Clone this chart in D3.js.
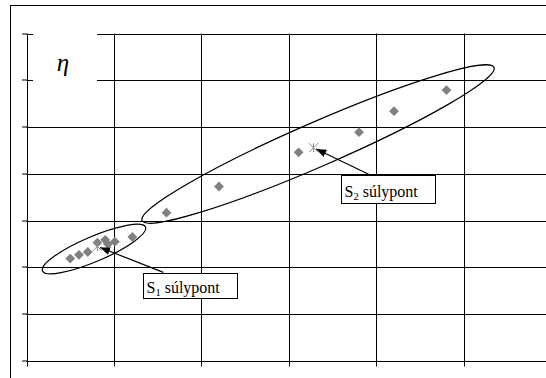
<!DOCTYPE html>
<html>
<head>
<meta charset="utf-8">
<script src="https://cdn.jsdelivr.net/npm/d3@7"></script>
<style>
  html, body { margin: 0; padding: 0; background: #fff; }
  svg { display: block; }
  svg text.serif { font-family: "Liberation Serif", "Times New Roman", Times, "DejaVu Serif", "Noto Serif", serif; }
</style>
</head>
<body>
<svg id="chart" width="546" height="378"></svg>
<script>
// Measured points, grouped by cluster (axis units)
const s1X = [0.50, 0.60, 0.70, 0.81, 0.90, 0.93, 1.01, 1.21];
const s1Y = [2.19, 2.27, 2.33, 2.53, 2.59, 2.50, 2.55, 2.65];
const s2X = [1.60, 2.20, 3.11, 3.80, 4.20, 4.80];
const s2Y = [3.17, 3.73, 4.46, 4.89, 5.34, 5.79];

// Cluster centres of gravity
const centroidX = [0.81, 3.28];
const centroidY = [2.45, 4.56];
const centroidLabels = ["1", "2"];

// Enclosing ellipses: major-axis end points (axis units) and half-width (px)
const ellipseX1 = [0.183, 1.32];
const ellipseY1 = [1.926, 3.001];
const ellipseX2 = [1.36, 5.343];
const ellipseY2 = [2.862, 6.275];
const ellipseHalfWidth = [12.5, 22];

// Callout boxes (top-left corner, axis units) and where the arrow leaves them
const boxX = [1.328, 3.591];
const boxY = [1.887, 3.965];
const arrowStartX = [1.564, 3.945];
const arrowStartY = [1.894, 3.960];

const xTicks = [0, 1, 2, 3, 4, 5, 6];
const yTicks = [0, 1, 2, 3, 4, 5, 6, 7];
const axisTitle = "η";

const svg = d3.select("#chart");

const x = d3.scaleLinear().domain([0, 6]).range([26.5, 551.5]);
const y = d3.scaleLinear().domain([0, 7]).range([361, 33.5]);

// outer chart frame
svg.append("rect")
  .attr("x", 10.5).attr("y", 5.5)
  .attr("width", 560).attr("height", 400)
  .attr("fill", "none").attr("stroke", "#000").attr("stroke-width", 1);

// grid
const grid = svg.append("g").attr("stroke", "#000").attr("stroke-width", 1);
grid.selectAll("line.h").data(yTicks).join("line")
  .attr("class", "h")
  .attr("x1", x(0)).attr("x2", x(6))
  .attr("y1", d => Math.round(y(d)) + 0.5).attr("y2", d => Math.round(y(d)) + 0.5);
grid.selectAll("line.v").data(xTicks).join("line")
  .attr("class", "v")
  .attr("y1", y(7)).attr("y2", y(0))
  .attr("x1", d => Math.round(x(d)) + 0.5).attr("x2", d => Math.round(x(d)) + 0.5);

// axes with outward tick marks, no labels
const yAxis = d3.axisLeft(y).tickValues(yTicks).tickSize(5).tickFormat("");
const xAxis = d3.axisBottom(x).tickValues(xTicks).tickSize(5).tickFormat("");
svg.append("g").attr("transform", "translate(0.5,0)").call(yAxis)
  .call(g => g.select(".domain").remove())
  .call(g => g.selectAll(".tick").attr("transform", d => `translate(${x(0)},${Math.round(y(d))})`))
  .call(g => g.selectAll("line").attr("stroke", "#000"));
svg.append("g").attr("transform", "translate(0,0.5)").call(xAxis)
  .call(g => g.select(".domain").remove())
  .call(g => g.selectAll(".tick").attr("transform", d => `translate(${Math.round(x(d)) + 0.5},${y(0)})`))
  .call(g => g.selectAll("line").attr("stroke", "#000"));

// axis title box (white, hides the grid beneath)
svg.append("rect")
  .attr("x", 33).attr("y", 28).attr("width", 64).attr("height", 56)
  .attr("fill", "#fff");
svg.append("text")
  .attr("class", "serif")
  .attr("x", 63).attr("y", 71)
  .attr("text-anchor", "middle")
  .attr("font-style", "italic")
  .attr("font-size", 25)
  .text(axisTitle);

// enclosing ellipses
const ellipses = d3.range(ellipseX1.length).map(i => {
  const ax = x(ellipseX1[i]), ay = y(ellipseY1[i]);
  const bx = x(ellipseX2[i]), by = y(ellipseY2[i]);
  return {
    cx: (ax + bx) / 2, cy: (ay + by) / 2,
    rx: Math.hypot(bx - ax, by - ay) / 2,
    ry: ellipseHalfWidth[i],
    angle: Math.atan2(by - ay, bx - ax) * 180 / Math.PI
  };
});
svg.append("g").selectAll("ellipse").data(ellipses).join("ellipse")
  .attr("transform", d => `translate(${d.cx},${d.cy}) rotate(${d.angle})`)
  .attr("rx", d => d.rx).attr("ry", d => d.ry)
  .attr("fill", "none").attr("stroke", "#000").attr("stroke-width", 1.2);

// square diamond marker
const diamond = {
  draw(ctx, size) {
    const r = Math.sqrt(size / 2);
    ctx.moveTo(0, -r); ctx.lineTo(r, 0); ctx.lineTo(0, r); ctx.lineTo(-r, 0); ctx.closePath();
  }
};
const points = s1X.map((v, i) => [v, s1Y[i]]).concat(s2X.map((v, i) => [v, s2Y[i]]));
svg.append("g").selectAll("path").data(points).join("path")
  .attr("transform", d => `translate(${x(d[0])},${y(d[1])})`)
  .attr("d", d3.symbol().type(diamond).size(48))
  .attr("fill", "#808080");

// centroid asterisks
const cg = svg.append("g").attr("stroke", "#8c8c8c").attr("stroke-width", 1);
centroidX.forEach((cx, i) => {
  const px = x(cx), py = y(centroidY[i]), r = 4.5;
  const g = cg.append("g").attr("transform", `translate(${px},${py})`);
  g.append("line").attr("x1", 0).attr("y1", -r).attr("x2", 0).attr("y2", r);
  g.append("line").attr("x1", -r).attr("y1", -r).attr("x2", r).attr("y2", r);
  g.append("line").attr("x1", -r).attr("y1", r).attr("x2", r).attr("y2", -r);
});

// arrow marker
svg.append("defs").append("marker")
  .attr("id", "arrow").attr("viewBox", "0 0 10 8")
  .attr("refX", 10).attr("refY", 4)
  .attr("markerWidth", 10).attr("markerHeight", 8)
  .attr("markerUnits", "userSpaceOnUse")
  .attr("orient", "auto")
  .append("path").attr("d", "M0,0 L10,4 L0,8 Z").attr("fill", "#000");

// callouts
centroidX.forEach((cx, i) => {
  const sx = x(arrowStartX[i]), sy = y(arrowStartY[i]);
  const ex = x(cx), ey = y(centroidY[i]);
  const len = Math.hypot(sx - ex, sy - ey);
  const tx = ex + (sx - ex) / len * 3, ty = ey + (sy - ey) / len * 3;
  svg.append("line")
    .attr("x1", sx).attr("y1", sy).attr("x2", tx).attr("y2", ty)
    .attr("stroke", "#000").attr("stroke-width", 1.2)
    .attr("marker-end", "url(#arrow)");

  const bx = Math.round(x(boxX[i])) + 0.5, by = Math.round(y(boxY[i])) + 0.5;
  svg.append("rect")
    .attr("x", bx).attr("y", by).attr("width", 94).attr("height", i === 0 ? 25 : 28)
    .attr("fill", "#fff").attr("stroke", "#000").attr("stroke-width", 1);
  const t = svg.append("text")
    .attr("class", "serif")
    .attr("x", bx + 3).attr("y", by + (i === 0 ? 19 : 21))
    .attr("font-size", 16);
  t.append("tspan").text("S");
  t.append("tspan").attr("font-size", 10.5).attr("dy", 3).text(centroidLabels[i]);
  t.append("tspan").attr("dy", -3).text(" súlypont");
});
</script>
</body>
</html>
